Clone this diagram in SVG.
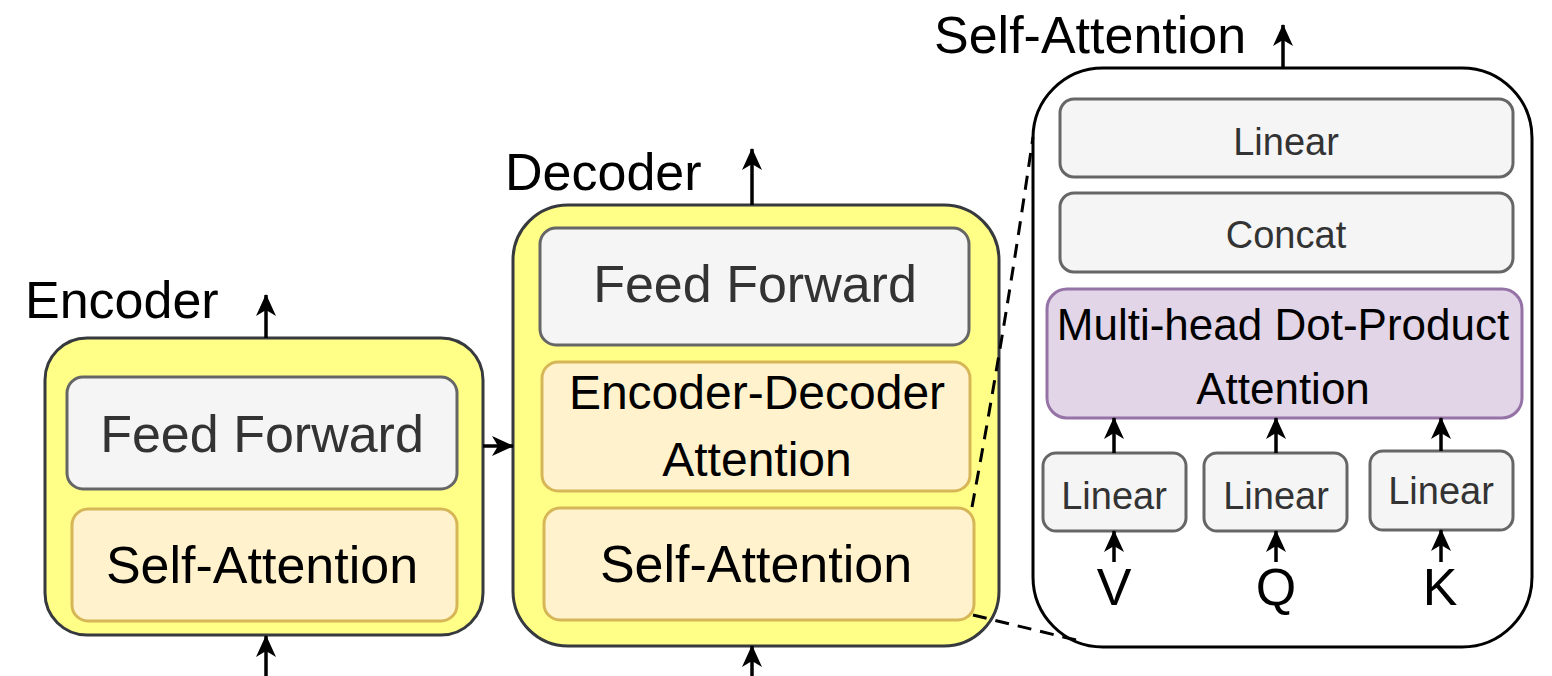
<svg xmlns="http://www.w3.org/2000/svg" width="1552" height="676" viewBox="0 0 1552 676">
<defs>
<style>
text{font-family:"Liberation Sans",Arial,Helvetica,sans-serif;text-anchor:middle;fill:#000}
.lbl{font-size:52px;text-anchor:start}
.big{font-size:52px}
.gray{fill:#333}
.outer{fill:#ffff88;stroke:#36393d;stroke-width:3}
.sa{fill:#fff;stroke:#000;stroke-width:3}
.g{fill:#f5f5f5;stroke:#666;stroke-width:3}
.y{fill:#fff2cc;stroke:#d6b656;stroke-width:3}
.p{fill:#e1d5e7;stroke:#9673a6;stroke-width:3}
.c{stroke:#000;stroke-width:3.5;fill:none}
.d{stroke:#000;stroke-width:3;fill:none;stroke-dasharray:14 9}
</style>
<marker id="arr" viewBox="0 0 22 22" refX="21" refY="11" markerWidth="22" markerHeight="22" markerUnits="userSpaceOnUse" orient="auto">
<path d="M0,1 L22,11 L0,21 L6,11 Z" fill="#000"/>
</marker>
</defs>
<rect width="1552" height="676" fill="#fff"/>

<g id="encoder">
<rect class="outer" x="45" y="338" width="438" height="297" rx="42"/>
<text class="lbl" x="25" y="318">Encoder</text>
</g>
<g id="enc-ff">
<rect class="g" x="67" y="377" width="390" height="112" rx="16"/>
<text class="big gray" x="262" y="452">Feed Forward</text>
</g>
<g id="enc-sa">
<rect class="y" x="72" y="509" width="385" height="112" rx="16"/>
<text class="big" x="262" y="583">Self-Attention</text>
</g>

<g id="decoder">
<rect class="outer" x="513" y="205" width="486" height="441" rx="55"/>
<text class="lbl" x="505" y="190">Decoder</text>
</g>
<g id="dec-ff">
<rect class="g" x="540" y="228" width="429" height="117" rx="16"/>
<text class="big gray" x="755" y="302">Feed Forward</text>
</g>
<g id="dec-eda">
<rect class="y" x="542" y="362" width="428" height="129" rx="16"/>
<text x="757" y="409" font-size="48">Encoder-Decoder</text>
<text x="757" y="476" font-size="48">Attention</text>
</g>
<g id="dec-sa">
<rect class="y" x="544" y="508" width="430" height="112" rx="16"/>
<text class="big" x="756" y="582">Self-Attention</text>
</g>

<g id="self-attention">
<rect class="sa" x="1033" y="68" width="499" height="579" rx="70"/>
<text class="lbl" x="934" y="53">Self-Attention</text>
</g>
<g id="sa-linear">
<rect class="g" x="1060" y="99" width="453" height="78" rx="14"/>
<text class="gray" x="1286" y="155" font-size="38">Linear</text>
</g>
<g id="sa-concat">
<rect class="g" x="1060" y="193" width="453" height="79" rx="14"/>
<text class="gray" x="1286" y="248" font-size="38">Concat</text>
</g>
<g id="sa-mhdpa">
<rect class="p" x="1047" y="289" width="475" height="129" rx="20"/>
<text x="1283" y="340" font-size="44">Multi-head Dot-Product</text>
<text x="1283" y="404" font-size="44">Attention</text>
</g>
<g id="lin-v">
<rect class="g" x="1043" y="453" width="143" height="78" rx="13"/>
<text class="gray" x="1114" y="509" font-size="38">Linear</text>
</g>
<g id="lin-q">
<rect class="g" x="1204" y="453" width="143" height="78" rx="13"/>
<text class="gray" x="1276" y="509" font-size="38">Linear</text>
</g>
<g id="lin-k">
<rect class="g" x="1370" y="451" width="143" height="79" rx="13"/>
<text class="gray" x="1441" y="504" font-size="38">Linear</text>
</g>
<g id="in-v"><text class="big" x="1114" y="605">V</text></g>
<g id="in-q"><text class="big" x="1276" y="605">Q</text></g>
<g id="in-k"><text class="big" x="1440" y="605">K</text></g>

<g id="connectors">
<line class="c" x1="266" y1="338" x2="266" y2="295" marker-end="url(#arr)"/>
<line class="c" x1="266" y1="676" x2="266" y2="636" marker-end="url(#arr)"/>
<line class="c" x1="483" y1="446" x2="513" y2="446" marker-end="url(#arr)"/>
<line class="c" x1="752" y1="205" x2="752" y2="149" marker-end="url(#arr)"/>
<line class="c" x1="752" y1="676" x2="752" y2="646" marker-end="url(#arr)"/>
<line class="c" x1="1283" y1="68" x2="1283" y2="25" marker-end="url(#arr)"/>
<line class="c" x1="1114" y1="453" x2="1114" y2="418" marker-end="url(#arr)"/>
<line class="c" x1="1276" y1="453" x2="1276" y2="418" marker-end="url(#arr)"/>
<line class="c" x1="1441" y1="451" x2="1441" y2="418" marker-end="url(#arr)"/>
<line class="c" x1="1114" y1="562" x2="1114" y2="531" marker-end="url(#arr)"/>
<line class="c" x1="1276" y1="562" x2="1276" y2="531" marker-end="url(#arr)"/>
<line class="c" x1="1441" y1="562" x2="1441" y2="530" marker-end="url(#arr)"/>
<path class="d" d="M972,507 Q1005,330 1033,137"/>
<path class="d" d="M973,615 L1080,641"/>
</g>
</svg>
